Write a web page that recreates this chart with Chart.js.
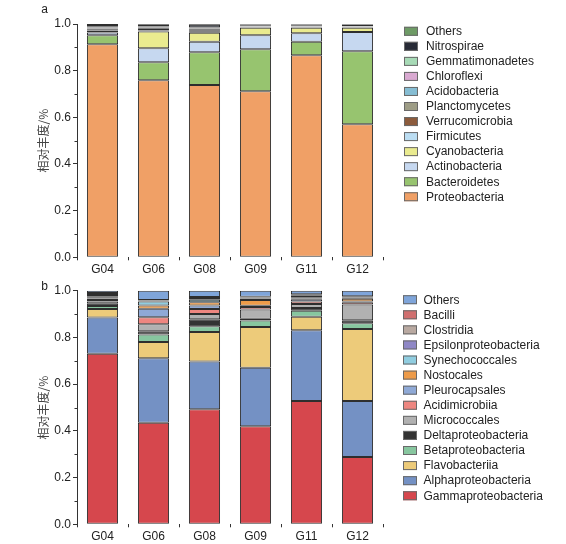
<!DOCTYPE html>
<html>
<head>
<meta charset="utf-8">
<script src="https://cdn.jsdelivr.net/npm/chart.js@4.4.1/dist/chart.umd.min.js"></script>
<style>
  html, body { margin:0; padding:0; background:#fff; }
  body { width:566px; height:544px; position:relative; overflow:hidden; }
  canvas { position:absolute; left:0; }
  #cA { top:0; }
  #cB { top:280px; }
</style>
</head>
<body>
<canvas id="cA" width="566" height="282"></canvas>
<canvas id="cB" width="566" height="264"></canvas>
<script>
// ---------- data ----------
const categories = ['G04', 'G06', 'G08', 'G09', 'G11', 'G12'];
const yTickValues = [0.0, 0.2, 0.4, 0.6, 0.8, 1.0];

// Panel a (phylum level), stacked bottom -> top
const seriesA = ['Proteobacteria','Bacteroidetes','Actinobacteria','Cyanobacteria','Firmicutes','Verrucomicrobia','Planctomycetes','Acidobacteria','Chloroflexi','Gemmatimonadetes','Nitrospirae','Others'];
const proteobacteria   = [0.913, 0.759, 0.738, 0.712, 0.866, 0.570];
const bacteroidetes    = [0.039, 0.077, 0.141, 0.180, 0.058, 0.313];
const actinobacteria   = [0.012, 0.060, 0.045, 0.060, 0.036, 0.083];
const cyanobacteria    = [0.008, 0.072, 0.039, 0.032, 0.024, 0.018];
const firmicutes       = [0.005, 0.004, 0.004, 0.002, 0.002, 0.002];
const verrucomicrobia  = [0.003, 0.008, 0.006, 0.002, 0.002, 0.001];
const planctomycetes   = [0.002, 0.003, 0.004, 0.001, 0.001, 0.001];
const acidobacteria    = [0.002, 0.002, 0.003, 0.001, 0.001, 0.001];
const chloroflexi      = [0.001, 0.001, 0.002, 0.001, 0.001, 0.001];
const gemmatimonadetes = [0.003, 0.003, 0.003, 0.001, 0.001, 0.001];
const nitrospirae      = [0.008, 0.008, 0.012, 0.006, 0.006, 0.007];
const othersA          = [0.004, 0.003, 0.003, 0.002, 0.002, 0.002];
const valuesA = [proteobacteria, bacteroidetes, actinobacteria, cyanobacteria, firmicutes, verrucomicrobia, planctomycetes, acidobacteria, chloroflexi, gemmatimonadetes, nitrospirae, othersA];
const colorsA = ['#F0A066','#97C46F','#C6D8F0','#EAEB8F','#BBDDF2','#8C5B3C','#9E9D86','#86BDD3','#D9A9D1','#A7DAB6','#272A36','#6E9B66'];

// Panel b (class/order level), stacked bottom -> top
const seriesB = ['Gammaproteobacteria','Alphaproteobacteria','Flavobacteriia','Betaproteobacteria','Deltaproteobacteria','Micrococcales','Acidimicrobiia','Pleurocapsales','Nostocales','Synechococcales','Epsilonproteobacteria','Clostridia','Bacilli','Others'];
const gammaproteobacteria   = [0.730, 0.435, 0.493, 0.420, 0.528, 0.288];
const alphaproteobacteria   = [0.155, 0.276, 0.204, 0.250, 0.303, 0.240];
const flavobacteriia        = [0.037, 0.069, 0.126, 0.175, 0.057, 0.308];
const betaproteobacteria    = [0.012, 0.032, 0.025, 0.027, 0.026, 0.025];
const deltaproteobacteria   = [0.010, 0.014, 0.030, 0.008, 0.012, 0.012];
const micrococcales         = [0.010, 0.030, 0.022, 0.040, 0.017, 0.068];
const acidimicrobiia        = [0.006, 0.030, 0.022, 0.010, 0.011, 0.010];
const pleurocapsales        = [0.004, 0.037, 0.015, 0.006, 0.009, 0.003];
const nostocales            = [0.003, 0.014, 0.014, 0.024, 0.004, 0.012];
const synechococcales       = [0.003, 0.017, 0.010, 0.004, 0.003, 0.003];
const epsilonproteobacteria = [0.004, 0.002, 0.004, 0.003, 0.003, 0.002];
const clostridia            = [0.008, 0.002, 0.004, 0.004, 0.008, 0.002];
const bacilli               = [0.008, 0.002, 0.004, 0.003, 0.004, 0.003];
const othersB               = [0.010, 0.040, 0.027, 0.026, 0.015, 0.024];
const valuesB = [gammaproteobacteria, alphaproteobacteria, flavobacteriia, betaproteobacteria, deltaproteobacteria, micrococcales, acidimicrobiia, pleurocapsales, nostocales, synechococcales, epsilonproteobacteria, clostridia, bacilli, othersB];
const colorsB = ['#D6474D','#7491C4','#EDCB7A','#87C69F','#333333','#B1B1B1','#EE8680','#8FA9D6','#EE9B49','#90CDE0','#8F87C6','#B9A9A1','#D06F6F','#7FA5DA'];

// ---------- helpers ----------
const FONT = "'Liberation Sans', Arial, Helvetica, sans-serif";
Chart.defaults.font.family = FONT;
Chart.defaults.font.size = 12;
Chart.defaults.color = '#222';

const customLegend = {
  id: 'customLegend',
  afterDraw(chart, args, o) {
    const ctx = chart.ctx;
    const ds = chart.data.datasets.slice().reverse();
    ctx.save();
    ctx.font = '12px ' + FONT;
    ctx.textBaseline = 'middle';
    ctx.textAlign = 'left';
    ds.forEach((d, i) => {
      const y = o.y0 + i * o.dy;
      ctx.fillStyle = d.backgroundColor;
      ctx.fillRect(o.bx, y - 4.5, 14, 9);
      ctx.strokeStyle = '#6a6a6a';
      ctx.lineWidth = 1;
      ctx.strokeRect(o.bx + 0.5, y - 4, 13, 8);
      ctx.fillStyle = '#222';
      ctx.fillText(d.label, o.tx, y + 0.5);
    });
    ctx.restore();
  }
};

const extras = {
  id: 'extras',
  afterDraw(chart, args, o) {
    const ctx = chart.ctx;
    const ys = chart.scales.y;
    ctx.save();
    // minor ticks
    ctx.strokeStyle = '#333';
    ctx.lineWidth = 1;
    [0.1, 0.3, 0.5, 0.7, 0.9].forEach(v => {
      const y = Math.round(ys.getPixelForValue(v)) + 0.5;
      ctx.beginPath();
      ctx.moveTo(ys.right, y);
      ctx.lineTo(ys.right - 2.5, y);
      ctx.stroke();
    });
    // panel letter
    ctx.fillStyle = '#222';
    ctx.font = '12px ' + FONT;
    ctx.textBaseline = 'middle';
    ctx.textAlign = 'center';
    ctx.fillText(o.letter, o.lx, o.ly);
    ctx.restore();
  }
};

function makeChart(id, names, values, colors, cfg) {
  const datasets = names.map((n, i) => ({
    label: n,
    data: values[i],
    backgroundColor: colors[i],
    borderColor: '#2e2e2e',
    borderWidth: 1,
    borderSkipped: false,
    barPercentage: 0.61,
    categoryPercentage: 1.0
  }));
  return new Chart(document.getElementById(id), {
    type: 'bar',
    data: { labels: categories, datasets },
    plugins: [customLegend, extras],
    options: {
      responsive: false,
      animation: false,
      layout: { padding: { left: 0, right: 183, top: cfg.top, bottom: 0 } },
      plugins: {
        legend: { display: false },
        tooltip: { enabled: false },
        customLegend: cfg.legend,
        extras: cfg.extras
      },
      scales: {
        x: {
          stacked: true,
          offset: true,
          border: { display: false },
          grid: { display: true, offset: true, drawOnChartArea: false, drawTicks: true, tickLength: 3, color: '#333' },
          ticks: { padding: 2, color: '#222', font: { size: 12 } },
          afterFit: s => { s.height = cfg.xh; }
        },
        y: {
          stacked: true,
          min: 0, max: 1,
          afterBuildTicks: s => { s.ticks = yTickValues.map(v => ({ value: v })); },
          border: { display: true, color: '#333', width: 1 },
          grid: { drawOnChartArea: false, drawTicks: true, tickLength: 4, color: '#333' },
          ticks: { padding: 2, color: '#222', font: { size: 12 }, callback: v => Number(v).toFixed(1) },
          title: { display: true, text: '相对丰度/%', color: '#444',
                   font: { family: "'Noto Sans CJK SC', 'Noto Sans', sans-serif", size: 12 },
                   padding: { top: 36, bottom: 0 } },
          afterFit: s => { s.width = 77; }
        }
      }
    }
  });
}

makeChart('cA', seriesA, valuesA, colorsA, {
  top: 24, xh: 24.7,
  legend: { y0: 31.3, dy: 15.04, bx: 404, tx: 426 },
  extras: { letter: 'a', lx: 44.5, ly: 10 }
});
makeChart('cB', seriesB, valuesB, colorsB, {
  top: 10.7, xh: 19.7,
  legend: { y0: 19.7, dy: 15.08, bx: 403, tx: 423.5 },
  extras: { letter: 'b', lx: 44.5, ly: 6.5 }
});
</script>
</body>
</html>
